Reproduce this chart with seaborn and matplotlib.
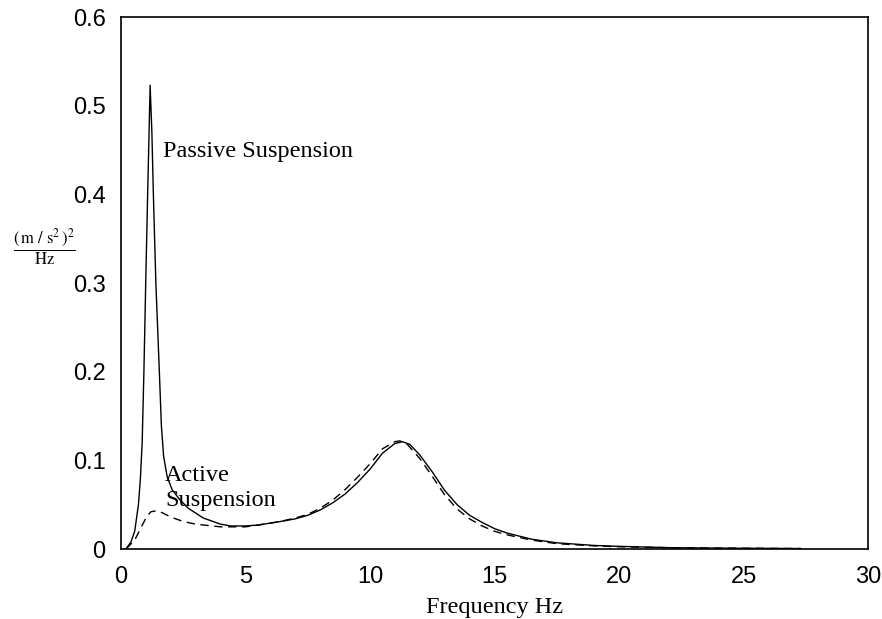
import matplotlib
matplotlib.use("Agg")
import matplotlib.pyplot as plt
import seaborn as sns
import pandas as pd

# ---- data ----
passive_freq = [0.2, 0.4, 0.55, 0.7, 0.78, 0.85, 0.92, 1.0, 1.07, 1.17, 1.24, 1.3, 1.4, 1.54,
                1.62, 1.71, 1.85, 2.05, 2.35, 2.7, 3.3, 4.0, 4.4, 5.0, 5.5, 6.4, 7.0, 7.5,
                8.0, 8.5, 9.0, 9.5, 10.0, 10.5, 11.0, 11.3, 11.6, 12.0, 12.5, 13.0, 13.5,
                14.0, 14.5, 15.0, 15.5, 16.5, 17.5, 19.0, 20.0, 22.0, 24.0, 27.3]
passive_psd = [0.0, 0.008, 0.02, 0.05, 0.08, 0.12, 0.2, 0.31, 0.4, 0.523, 0.47, 0.4, 0.3, 0.2,
               0.14, 0.105, 0.082, 0.067, 0.056, 0.046, 0.035, 0.028, 0.026, 0.026, 0.027,
               0.031, 0.034, 0.038, 0.044, 0.052, 0.062, 0.075, 0.09, 0.108, 0.119, 0.121,
               0.118, 0.106, 0.087, 0.066, 0.05, 0.038, 0.03, 0.023, 0.018, 0.011, 0.007,
               0.004, 0.003, 0.0015, 0.001, 0.0005]

active_freq = [0.2, 0.55, 0.82, 1.02, 1.2, 1.4, 1.65, 2.0, 2.5, 3.0, 4.0, 5.0, 5.5, 6.4, 7.0,
               7.5, 8.0, 8.5, 9.0, 9.5, 10.0, 10.5, 11.0, 11.2, 11.5, 12.0, 12.5, 13.0, 13.5,
               14.0, 14.5, 15.0, 15.5, 16.5, 17.5, 19.0, 20.0, 22.0, 24.0, 27.3]
active_psd = [0.0, 0.01, 0.025, 0.036, 0.042, 0.043, 0.041, 0.036, 0.031, 0.028, 0.025, 0.025,
              0.027, 0.031, 0.035, 0.039, 0.046, 0.055, 0.067, 0.081, 0.096, 0.113, 0.121,
              0.122, 0.118, 0.102, 0.082, 0.061, 0.045, 0.034, 0.026, 0.02, 0.016, 0.01,
              0.006, 0.0035, 0.0025, 0.0015, 0.001, 0.0005]

x_ticks = [0, 5, 10, 15, 20, 25, 30]
x_tick_labels = ["0", "5", "10", "15", "20", "25", "30"]
y_ticks = [0, 0.1, 0.2, 0.3, 0.4, 0.5, 0.6]
y_tick_labels = ["0", "0.1", "0.2", "0.3", "0.4", "0.5", "0.6"]

passive_label = "Passive Suspension"
active_label = "Active\nSuspension"
x_label = "Frequency Hz"

# ---- plotting ----
sns.set_theme(style="white")
plt.rcParams["mathtext.fontset"] = "stix"

fig = plt.figure(figsize=(8.82, 6.19), dpi=100)
ax = fig.add_axes([121 / 882, 1 - 549 / 619, (868 - 121) / 882, (549 - 17) / 619])

df_p = pd.DataFrame({"f": passive_freq, "psd": passive_psd})
df_a = pd.DataFrame({"f": active_freq, "psd": active_psd})
sns.lineplot(data=df_p, x="f", y="psd", ax=ax, color="black", linewidth=1.0,
             estimator=None, sort=False)
sns.lineplot(data=df_a, x="f", y="psd", ax=ax, color="black", linewidth=1.0,
             estimator=None, sort=False, linestyle=(0, (6, 4)))

ax.set_xlim(0, 30)
ax.set_ylim(0, 0.6)
ax.set_xticks(x_ticks)
ax.set_xticklabels(x_tick_labels)
ax.set_yticks(y_ticks)
ax.set_yticklabels(y_tick_labels)

for s in ax.spines.values():
    s.set_color("black")
    s.set_linewidth(1.2)
    s.set_visible(True)

ax.tick_params(axis="both", direction="in", length=5, width=1, color="black",
               labelsize=17, labelcolor="black")
ax.tick_params(axis="x", pad=12, top=False)
ax.tick_params(axis="y", pad=11, right=False)
for lab in ax.get_xticklabels() + ax.get_yticklabels():
    lab.set_family("Liberation Sans")

ax.set_xlabel(x_label, family="Liberation Serif", fontsize=17.5, color="black")
ax.xaxis.set_label_coords(0.5, -0.09)
ax.set_ylabel("")

ax.text(1.69, 0.448, passive_label, family="Liberation Serif", fontsize=17.5,
        ha="left", va="center", color="black")
ax.text(1.77, 0.0693, active_label, family="Liberation Serif", fontsize=17.5,
        ha="left", va="center", color="black", linespacing=1.25)

fig.text(44 / 882, 1 - 247 / 619,
         r"$\dfrac{(\,\mathrm{m}\ /\ \mathrm{s}^{2}\,)^{2}}{\mathrm{Hz}}$",
         ha="center", va="center", fontsize=12, color="black")

fig.savefig("out.png", dpi=100, facecolor="white")
